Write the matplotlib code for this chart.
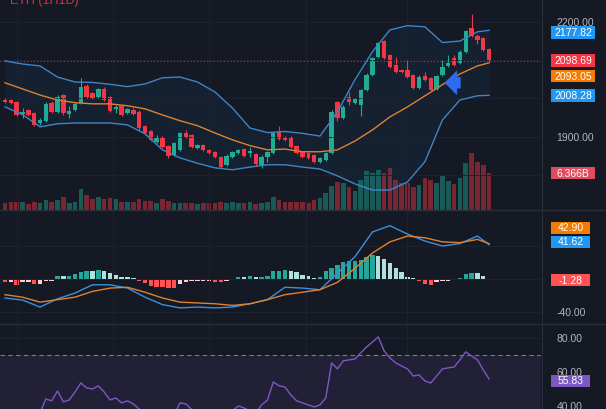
import matplotlib
matplotlib.use('Agg')
import matplotlib.pyplot as plt
from matplotlib.patches import Rectangle
from matplotlib.lines import Line2D
import numpy as np

plt.rcParams['font.family'] = ['Liberation Sans', 'DejaVu Sans']

# candles
opens = [1997, 1995, 1991, 1960, 1970, 1962, 1936, 1942, 1989, 1965,
         2009, 1960, 1971, 1988, 2033, 2014, 2005, 2026, 2003, 1973,
         1981, 1962, 1970, 1966, 1927, 1914, 1887, 1900, 1876, 1852,
         1866, 1911, 1905, 1870, 1879, 1866, 1861, 1848, 1827, 1848,
         1859, 1867, 1858, 1855, 1827, 1848, 1859, 1913, 1900, 1900,
         1876, 1861, 1857, 1853, 1835, 1840, 1857, 1990, 1950, 2005,
         1988, 1983, 2022, 2062, 2109, 2149, 2114, 2088, 2075, 2075,
         2062, 2027, 2059, 2053, 2024, 2062, 2084, 2105, 2092, 2122,
         2184, 2163, 2157, 2129]
closes = [1992, 1989, 1957, 1966, 1957, 1931, 1944, 1986, 1966, 2005,
          1962, 1968, 1986, 2031, 2005, 2001, 2024, 1996, 1968, 1979,
          1957, 1972, 1960, 1922, 1910, 1892, 1900, 1874, 1850, 1883,
          1909, 1899, 1874, 1879, 1866, 1857, 1848, 1822, 1851, 1861,
          1866, 1850, 1862, 1828, 1848, 1861, 1910, 1894, 1892, 1874,
          1857, 1848, 1844, 1835, 1844, 1857, 1966, 1950, 1979, 1990,
          1998, 2022, 2062, 2105, 2144, 2105, 2083, 2070, 2070, 2057,
          2027, 2057, 2049, 2022, 2059, 2083, 2092, 2088, 2122, 2175,
          2163, 2153, 2127, 2098.69]
highs = [2000, 1999, 1994, 1975, 1973, 1965, 1948, 1990, 1993, 2009,
         2012, 1980, 1990, 2053, 2037, 2018, 2028, 2030, 2006, 1983,
         1984, 1976, 1974, 1969, 1930, 1917, 1904, 1903, 1879, 1887,
         1912, 1918, 1908, 1882, 1882, 1869, 1864, 1851, 1855, 1864,
         1869, 1870, 1874, 1858, 1852, 1864, 1913, 1927, 1903, 1903,
         1879, 1864, 1860, 1856, 1847, 1860, 1970, 1994, 1983, 2018,
         2001, 2026, 2066, 2109, 2148, 2153, 2117, 2109, 2078, 2101,
         2065, 2061, 2070, 2056, 2062, 2101, 2114, 2114, 2126, 2179,
         2220, 2168, 2160, 2133]
lows = [1988, 1986, 1954, 1950, 1953, 1928, 1932, 1939, 1962, 1962,
        1958, 1950, 1968, 1985, 2001, 1998, 2001, 1993, 1964, 1961,
        1954, 1959, 1957, 1918, 1906, 1888, 1884, 1870, 1846, 1849,
        1863, 1896, 1870, 1868, 1863, 1854, 1845, 1818, 1824, 1845,
        1856, 1847, 1848, 1825, 1818, 1835, 1856, 1891, 1889, 1871,
        1854, 1845, 1841, 1832, 1832, 1837, 1854, 1940, 1947, 1983,
        1985, 1955, 2019, 2059, 2106, 2102, 2080, 2066, 2067, 2054,
        2024, 2024, 2046, 2019, 2021, 2059, 2081, 2085, 2089, 2119,
        2160, 2142, 2124, 2096]
volume_b = [1.15, 1.38, 1.38, 1.38, 0.98, 1.38, 1.26, 1.72, 1.38, 1.72,
            2.29, 1.15, 1.38, 3.56, 2.58, 1.84, 2.29, 1.94, 2.12, 1.94,
            1.38, 1.38, 1.38, 1.94, 1.55, 1.55, 1.26, 1.94, 1.55, 1.26,
            1.15, 1.26, 1.15, 0.98, 1.15, 1.26, 1.26, 1.38, 1.26, 1.38,
            1.15, 1.26, 1.38, 1.03, 1.15, 1.32, 2.18, 1.72, 1.32, 1.43,
            1.43, 1.43, 1.15, 1.72, 2.01, 2.87, 4.13, 4.87, 4.59, 4.01,
            3.32, 5.16, 6.76, 6.31, 6.88, 6.31, 7.17, 5.16, 4.59, 4.70,
            4.01, 4.30, 5.56, 5.16, 4.70, 6.02, 5.04, 4.47, 5.45, 8.03,
            9.75, 8.20, 7.74, 6.366]

# indicator lines, read every 3rd bar
sample_idx = list(range(0, 84, 3)) + [83]
bb_upper = [2098, 2090, 2085, 2056, 2043, 2042, 2037, 2031, 2038, 2054,
            2056, 2043, 2017, 1975, 1923, 1911, 1914, 1909, 1902, 1965,
            2049, 2122, 2179, 2190, 2187, 2146, 2150, 2174, 2177.82]
bb_basis = [2041, 2025, 2009, 1996, 1989, 1986, 1986, 1981, 1973, 1957,
            1942, 1929, 1910, 1892, 1877, 1866, 1868, 1861, 1861, 1866,
            1889, 1918, 1952, 1978, 2007, 2036, 2064, 2085, 2093.05]
bb_lower = [1978, 1958, 1926, 1934, 1936, 1936, 1936, 1931, 1908, 1866,
            1845, 1831, 1819, 1814, 1821, 1827, 1827, 1821, 1816, 1798,
            1777, 1761, 1761, 1782, 1835, 1944, 1996, 2007, 2008.28]
macd_line = [-23, -25.5, -34, -24, -17, -7, -7, -11, -22, -31,
             -35, -34, -35, -34, -30, -25, -10, -11, -13, 7,
             27, 57, 64.6, 54.5, 46, 40, 43, 52, 41.62]
signal_line = [-19, -22, -28, -25, -22, -15, -11, -10, -16, -23,
               -28, -29, -30, -32, -30, -25, -19, -16, -13, -4,
               13, 31.5, 45, 52, 50, 45, 44, 48, 42.90]
macd_hist = [-4.0, -3.2, -6.9, -4.0, -3.8, -6.1, -5.8, -2.8, -2.0,
             3.2, 3.2, 4.0, 6.1, 8.9, 10.3, 10.0, 10.9, 10.1, 7.3, 4.8, 2.8, 2.0, 0.8,
             -2.0, -5.3, -8.1, -9.3, -9.8, -10.3, -11.0, -6.1, -3.2, -2.9, -2.8, -2.7,
             -2.6, -3.2, -4.0, -2.0, -0.8,
             2.8, 2.0, 3.2, 2.0, 2.8, 4.0, 9.3, 10.1, 10.9, 10.1, 8.1,
             4.8, 4.0, 1.6, 2.0, 10.1, 13.3, 17.4, 20.2, 21.4, 22.2, 23.0, 26.3, 29.5,
             28.3, 24.2, 19.0, 13.3, 8.1, 2.8, 1.2,
             -2.8, -6.1, -6.9, -4.0, -2.8, -2.0, -1.8, 0.8, 6.1, 7.3, 6.9, 3.2, -1.28]
rsi = [34, 33, 32, 31, 33, 35, 36, 44.1, 43, 48.8,
       42.4, 43.5, 48.2, 53.5, 50.6, 50, 51.8, 48.2, 43.5, 44.7,
       41.8, 43, 41.2, 38.2, 35, 33, 32, 34, 31, 35,
       41.8, 41.2, 38, 36, 37, 35, 34, 33, 30, 37,
       40, 38.8, 37, 36, 40.6, 43.5, 54.1, 51.8, 51.2, 46.5,
       43, 41.8, 40.6, 39.4, 40.6, 44.7, 65.3, 61.8, 66.5, 67.1,
       67.6, 71.2, 74.7, 77.6, 80.6, 72.4, 68.2, 65.3, 63.5, 61.8,
       57.6, 58.2, 54.7, 53.5, 57.6, 61.8, 62.4, 62.9, 67.1, 71.8,
       69.4, 67.1, 61.2, 55.83]

BG = '#151924'
GRID = '#1e2230'
SEP = '#2a2e39'
TXT = '#b2b5be'
UP = '#22ab94'
DOWN = '#f23645'
BAND = '#3d85c6'
ORANGE = '#e0812f'

W, H = 606, 409
fig = plt.figure(figsize=(W / 100, H / 100), dpi=100, facecolor=BG)


def rect(top, bottom):
    return [0, 1 - bottom / H, 541 / W, (bottom - top) / H]


x = np.arange(len(closes))
o = np.array(opens)
c = np.array(closes)
up = c >= o
cols = np.where(up, UP, DOWN)
vline_x = [2, 18.5, 35, 51.6, 69]
xlim = (-0.86, 91.9)


def style(ax, yticks, labels):
    ax.set_facecolor(BG)
    ax.set_xlim(*xlim)
    ax.set_xticks(vline_x)
    ax.set_xticklabels([])
    ax.yaxis.tick_right()
    ax.set_yticks(yticks)
    ax.set_yticklabels(labels)
    ax.tick_params(length=0, pad=11, labelsize=7.5, labelcolor=TXT)
    ax.grid(color=GRID, lw=0.7)
    for s in ax.spines.values():
        s.set_visible(False)


# volume sits underneath the price panel
ax_vol = fig.add_axes(rect(0, 210))
ax_vol.set_facecolor(BG)
ax_vol.set_xlim(*xlim)
ax_vol.bar(x, volume_b, width=0.8, color=cols, alpha=0.45, lw=0)
ax_vol.set_ylim(0, 36.13)
ax_vol.set_xticks([])
ax_vol.set_yticks([])
for s in ax_vol.spines.values():
    s.set_visible(False)

# main panel
ax = fig.add_axes(rect(0, 210))
style(ax, [1800, 1900, 2000, 2100, 2200], ['', '1900.00', '', '', '2200.00'])
ax.patch.set_visible(False)
ax.set_ylim(1709, 2257)

ax.fill_between(sample_idx, bb_lower, bb_upper, color='#2196f3', alpha=0.06, lw=0)
ax.plot(sample_idx, bb_upper, color=BAND, lw=1)
ax.plot(sample_idx, bb_lower, color=BAND, lw=1)
ax.plot(sample_idx, bb_basis, color=ORANGE, lw=1)
ax.vlines(x, lows, highs, colors=cols, lw=0.8)
ax.bar(x, np.maximum(np.abs(c - o), 1.0), bottom=np.minimum(o, c), width=0.75, color=cols, lw=0)
ax.axhline(closes[-1], color=DOWN, lw=0.8, ls=(0, (1, 2)), alpha=0.8)
ax.annotate('', xy=(74.9, 2041), xytext=(78.6, 2041),
            arrowprops=dict(arrowstyle='simple,head_length=0.6,head_width=1.2,tail_width=0.55',
                            fc='#2e6bf0', ec='none', mutation_scale=15))

# MACD panel
ax2 = fig.add_axes(rect(211, 323))
style(ax2, [-40, 0, 40], ['-40.00', '', ''])
ax2.set_ylim(-53.3, 82.4)
hist_cols = []
for i, h in enumerate(macd_hist):
    prev = macd_hist[i - 1] if i else h - 0.5 * np.sign(h)
    if h >= 0:
        hist_cols.append('#26a69a' if h > prev else '#b2dfdb')
    else:
        hist_cols.append('#ffcdd2' if h > prev else '#ff5252')
ax2.bar(x, macd_hist, width=0.75, color=hist_cols, lw=0)
ax2.plot(sample_idx, macd_line, color='#3b8fe0', lw=1)
ax2.plot(sample_idx, signal_line, color=ORANGE, lw=1)

# RSI panel
ax3 = fig.add_axes(rect(324, 409))
style(ax3, [40, 60, 80], ['40.00', '60.00', '80.00'])
ax3.set_ylim(38.2, 88.2)
ax3.axhspan(30, 70, color='#7e57c2', alpha=0.12, lw=0)
ax3.axhline(70, color='#787b86', lw=0.8, ls=(0, (4, 3)))
ax3.plot(x, rsi, color='#7e57c2', lw=1)

# separators
for yy in (210.5, 323.5):
    fig.add_artist(Line2D([0, 1], [1 - yy / H] * 2, color=SEP, lw=1))
fig.add_artist(Line2D([541.5 / W] * 2, [0, 1], color=SEP, lw=0.8))


def badge(yc, text, color, w=44):
    fig.add_artist(Rectangle((551 / W, 1 - (yc + 6) / H), w / W, 12 / H,
                             transform=fig.transFigure, facecolor=color,
                             edgecolor='none', zorder=5))
    fig.text((551 + w / 2) / W, 1 - (yc + 0.5) / H, text, color='white',
             ha='center', va='center', fontsize=7.5, zorder=6)


badge(32.5, '2177.82', '#2196f3')
badge(60.5, '2098.69', '#f23645')
badge(76.3, '2093.05', '#f57c00')
badge(95.5, '2008.28', '#2196f3')
badge(173.3, '6.366B', '#e04c5c')
badge(227.5, '42.90', '#f57c00', 39)
badge(241.7, '41.62', '#2196f3', 39)
badge(280, '-1.28', '#ff5252', 39)
badge(381, '55.83', '#7e57c2', 39)

fig.text(10 / W, 1 - 4 / H, 'ETH (1H1D)', color='#d9304a', fontsize=9, va='baseline')

fig.savefig('out.png', dpi=100, facecolor=BG)
